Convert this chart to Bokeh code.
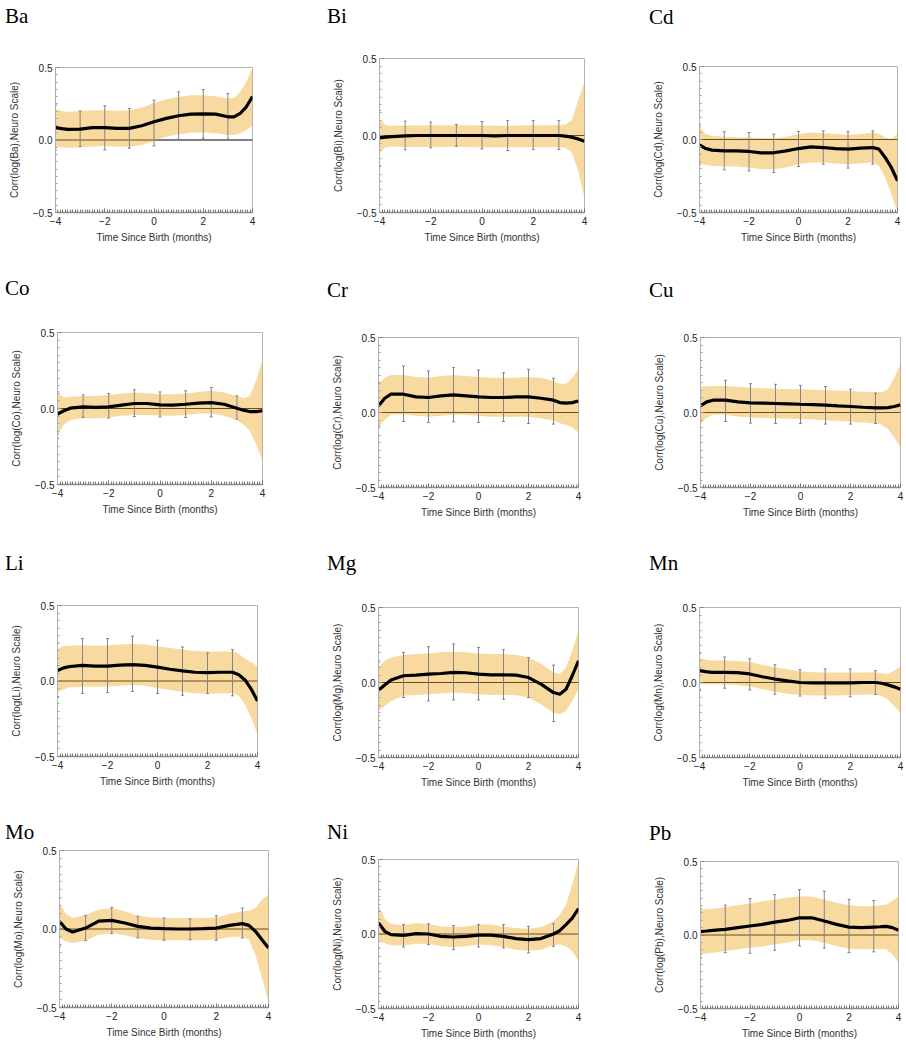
import numpy as np
from bokeh.plotting import figure
from bokeh.models import Span, FixedTicker, Range1d, Div
from bokeh.layouts import column, row
from bokeh.embed import file_html
from bokeh.resources import INLINE

# ---------------- data ----------------
x_grid = [-4, -3.75, -3.5, -3, -2.5, -2, -1.5, -1, -0.5, 0, 0.5, 1, 1.5, 2, 2.5, 3, 3.25, 3.5, 3.75, 4]
eb_x = [-4, -3, -2, -1, 0, 1, 2, 3]

elements = ["Ba", "Bi", "Cd", "Co", "Cr", "Cu", "Li", "Mg", "Mn", "Mo", "Ni", "Pb"]

ba_mean = [0.085, 0.078, 0.073, 0.075, 0.085, 0.085, 0.08, 0.08, 0.098, 0.126, 0.149, 0.167, 0.178, 0.18, 0.178, 0.16, 0.16, 0.183, 0.229, 0.30]
ba_hi = [0.213, 0.2, 0.195, 0.2, 0.206, 0.206, 0.202, 0.206, 0.222, 0.256, 0.281, 0.297, 0.309, 0.309, 0.302, 0.286, 0.29, 0.332, 0.4, 0.5]
ba_lo = [-0.048, -0.05, -0.053, -0.05, -0.046, -0.041, -0.046, -0.046, -0.034, -0.007, 0.023, 0.039, 0.05, 0.053, 0.046, 0.034, 0.034, 0.046, 0.069, 0.098]
ba_eb_hi = [0.24, 0.2, 0.236, 0.217, 0.275, 0.332, 0.348, 0.32]
ba_eb_lo = [-0.069, -0.046, -0.069, -0.057, -0.041, 0.005, 0.011, 0.005]

bi_mean = [-0.015, -0.01, -0.007, -0.002, 0, 0, 0, 0, 0, 0, -0.002, 0, 0, 0, 0, 0, -0.004, -0.011, -0.022, -0.037]
bi_hi = [0.109, 0.065, 0.063, 0.065, 0.065, 0.066, 0.066, 0.067, 0.066, 0.065, 0.063, 0.064, 0.065, 0.066, 0.066, 0.068, 0.072, 0.098, 0.228, 0.348]
bi_lo = [-0.109, -0.076, -0.072, -0.074, -0.075, -0.074, -0.074, -0.073, -0.074, -0.076, -0.078, -0.077, -0.077, -0.076, -0.076, -0.076, -0.08, -0.109, -0.228, -0.402]
bi_eb_hi = [0.163, 0.093, 0.087, 0.072, 0.091, 0.098, 0.098, 0.098]
bi_eb_lo = [-0.196, -0.093, -0.08, -0.07, -0.087, -0.098, -0.091, -0.091]

cd_mean = [-0.037, -0.062, -0.073, -0.078, -0.078, -0.082, -0.091, -0.091, -0.078, -0.062, -0.05, -0.055, -0.062, -0.066, -0.059, -0.055, -0.066, -0.123, -0.192, -0.283]
cd_hi = [0.087, 0.037, 0.025, 0.018, 0.016, 0.014, 0.011, 0.009, 0.018, 0.037, 0.048, 0.043, 0.037, 0.03, 0.037, 0.048, 0.037, 0.014, 0.002, 0.037]
cd_lo = [-0.164, -0.174, -0.18, -0.185, -0.185, -0.192, -0.203, -0.203, -0.192, -0.169, -0.158, -0.158, -0.164, -0.169, -0.162, -0.158, -0.18, -0.26, -0.374, -0.5]
cd_eb_hi = [0.087, 0.053, 0.048, 0.037, 0.055, 0.059, 0.055, 0.059]
cd_eb_lo = [-0.169, -0.208, -0.215, -0.226, -0.185, -0.169, -0.196, -0.169]

co_mean = [-0.037, -0.015, 0.002, 0.011, 0.007, 0.011, 0.022, 0.033, 0.033, 0.024, 0.022, 0.028, 0.035, 0.039, 0.028, 0.002, -0.011, -0.02, -0.02, -0.015]
co_hi = [0.105, 0.072, 0.077, 0.083, 0.083, 0.088, 0.098, 0.105, 0.1, 0.094, 0.094, 0.098, 0.109, 0.116, 0.105, 0.083, 0.068, 0.083, 0.182, 0.324]
co_lo = [-0.179, -0.103, -0.077, -0.063, -0.065, -0.059, -0.048, -0.042, -0.042, -0.048, -0.048, -0.042, -0.033, -0.033, -0.048, -0.077, -0.103, -0.147, -0.234, -0.342]
co_eb_hi = [0.109, 0.09, 0.098, 0.123, 0.109, 0.116, 0.138, 0.083]
co_eb_lo = [-0.168, -0.059, -0.063, -0.053, -0.055, -0.059, -0.055, -0.07]

cr_mean = [0.044, 0.095, 0.122, 0.122, 0.104, 0.1, 0.111, 0.117, 0.111, 0.104, 0.1, 0.1, 0.104, 0.104, 0.095, 0.082, 0.066, 0.062, 0.066, 0.077]
cr_hi = [0.188, 0.232, 0.25, 0.25, 0.237, 0.232, 0.243, 0.25, 0.243, 0.237, 0.232, 0.232, 0.232, 0.237, 0.232, 0.21, 0.192, 0.192, 0.232, 0.288]
cr_lo = [-0.1, -0.049, -0.015, -0.011, -0.022, -0.029, -0.022, -0.015, -0.015, -0.022, -0.029, -0.029, -0.029, -0.029, -0.038, -0.055, -0.071, -0.082, -0.1, -0.133]
cr_eb_hi = [0.192, 0.31, 0.277, 0.299, 0.283, 0.265, 0.288, 0.228]
cr_eb_lo = [-0.088, -0.06, -0.066, -0.062, -0.066, -0.06, -0.073, -0.077]

cu_mean = [0.044, 0.071, 0.082, 0.082, 0.071, 0.064, 0.062, 0.06, 0.058, 0.055, 0.053, 0.049, 0.044, 0.04, 0.035, 0.031, 0.031, 0.033, 0.04, 0.051]
cu_hi = [0.17, 0.175, 0.177, 0.177, 0.17, 0.166, 0.162, 0.159, 0.157, 0.155, 0.151, 0.148, 0.146, 0.144, 0.139, 0.137, 0.137, 0.155, 0.232, 0.321]
cu_lo = [-0.077, -0.033, -0.015, -0.015, -0.027, -0.033, -0.036, -0.04, -0.042, -0.044, -0.047, -0.051, -0.056, -0.062, -0.066, -0.073, -0.082, -0.111, -0.166, -0.232]
cu_eb_hi = [0.2, 0.215, 0.192, 0.188, 0.181, 0.173, 0.155, 0.128]
cu_eb_lo = [-0.1, -0.06, -0.071, -0.073, -0.073, -0.077, -0.077, -0.073]

li_mean = [0.069, 0.087, 0.096, 0.103, 0.098, 0.098, 0.105, 0.109, 0.103, 0.092, 0.078, 0.067, 0.058, 0.056, 0.058, 0.058, 0.042, 0.007, -0.054, -0.132]
li_hi = [0.214, 0.23, 0.234, 0.237, 0.234, 0.237, 0.241, 0.246, 0.241, 0.23, 0.219, 0.208, 0.199, 0.196, 0.196, 0.196, 0.181, 0.147, 0.125, 0.096]
li_lo = [-0.076, -0.054, -0.042, -0.038, -0.038, -0.036, -0.031, -0.027, -0.031, -0.047, -0.06, -0.071, -0.083, -0.083, -0.083, -0.08, -0.098, -0.154, -0.243, -0.355]
li_eb_hi = [0.252, 0.281, 0.281, 0.297, 0.27, 0.225, 0.185, 0.208]
li_eb_lo = [-0.109, -0.083, -0.076, -0.069, -0.083, -0.094, -0.083, -0.098]

mg_mean = [-0.051, -0.016, 0.016, 0.045, 0.049, 0.056, 0.06, 0.067, 0.065, 0.056, 0.051, 0.051, 0.049, 0.033, -0.011, -0.067, -0.078, -0.045, 0.045, 0.145]
mg_hi = [0.1, 0.145, 0.167, 0.183, 0.19, 0.194, 0.201, 0.205, 0.201, 0.194, 0.19, 0.19, 0.185, 0.167, 0.127, 0.067, 0.056, 0.1, 0.212, 0.346]
mg_lo = [-0.19, -0.156, -0.123, -0.089, -0.083, -0.078, -0.074, -0.067, -0.071, -0.078, -0.083, -0.083, -0.085, -0.1, -0.145, -0.201, -0.212, -0.19, -0.123, -0.045]
mg_eb_hi = [0.134, 0.201, 0.239, 0.257, 0.234, 0.219, 0.167, 0.116]
mg_eb_lo = [-0.223, -0.1, -0.123, -0.116, -0.116, -0.112, -0.1, -0.261]

mn_mean = [0.079, 0.072, 0.068, 0.068, 0.066, 0.057, 0.038, 0.023, 0.011, 0.0, -0.002, -0.002, -0.002, -0.002, 0.0, 0.0, -0.005, -0.016, -0.029, -0.045]
mn_hi = [0.163, 0.154, 0.147, 0.147, 0.143, 0.136, 0.118, 0.102, 0.088, 0.075, 0.068, 0.066, 0.066, 0.066, 0.066, 0.068, 0.061, 0.057, 0.079, 0.109]
mn_lo = [-0.011, -0.011, -0.011, -0.011, -0.016, -0.027, -0.045, -0.061, -0.075, -0.084, -0.086, -0.086, -0.086, -0.084, -0.082, -0.079, -0.09, -0.113, -0.158, -0.204]
mn_eb_hi = [0.192, 0.17, 0.158, 0.118, 0.086, 0.09, 0.09, 0.079]
mn_eb_lo = [-0.045, -0.038, -0.05, -0.079, -0.09, -0.106, -0.095, -0.079]

mo_mean = [0.049, 0.0, -0.019, 0.006, 0.05, 0.055, 0.038, 0.017, 0.006, 0.002, 0.0, 0.0, 0.002, 0.006, 0.023, 0.034, 0.023, -0.015, -0.068, -0.121]
mo_hi = [0.166, 0.096, 0.07, 0.091, 0.123, 0.134, 0.113, 0.085, 0.074, 0.07, 0.07, 0.07, 0.07, 0.074, 0.096, 0.113, 0.117, 0.134, 0.187, 0.219]
mo_lo = [-0.057, -0.079, -0.089, -0.074, -0.036, -0.026, -0.04, -0.057, -0.068, -0.072, -0.072, -0.072, -0.072, -0.068, -0.053, -0.047, -0.068, -0.164, -0.313, -0.462]
mo_eb_hi = [0.198, 0.085, 0.138, 0.081, 0.07, 0.064, 0.085, 0.134]
mo_eb_lo = [-0.111, -0.074, -0.03, -0.057, -0.072, -0.068, -0.072, -0.057]

ni_mean = [0.074, 0.018, -0.004, -0.009, 0.002, 0.0, -0.016, -0.02, -0.016, -0.007, -0.007, -0.016, -0.031, -0.038, -0.031, 0.0, 0.022, 0.063, 0.107, 0.17]
ni_hi = [0.196, 0.103, 0.067, 0.058, 0.074, 0.067, 0.051, 0.047, 0.051, 0.063, 0.063, 0.051, 0.04, 0.036, 0.047, 0.085, 0.129, 0.196, 0.33, 0.493]
ni_lo = [-0.049, -0.06, -0.078, -0.078, -0.065, -0.067, -0.083, -0.089, -0.083, -0.071, -0.076, -0.087, -0.105, -0.112, -0.105, -0.076, -0.071, -0.083, -0.116, -0.183]
ni_eb_hi = [0.23, 0.063, 0.069, 0.056, 0.063, 0.063, 0.051, 0.069]
ni_eb_lo = [-0.094, -0.087, -0.071, -0.105, -0.087, -0.094, -0.127, -0.083]

pb_mean = [0.023, 0.027, 0.032, 0.038, 0.05, 0.061, 0.072, 0.088, 0.099, 0.117, 0.117, 0.095, 0.072, 0.054, 0.05, 0.054, 0.056, 0.059, 0.05, 0.032]
pb_hi = [0.174, 0.176, 0.178, 0.19, 0.203, 0.212, 0.23, 0.242, 0.253, 0.264, 0.26, 0.242, 0.219, 0.203, 0.196, 0.196, 0.2, 0.208, 0.23, 0.264]
pb_lo = [-0.131, -0.125, -0.12, -0.108, -0.097, -0.086, -0.079, -0.063, -0.052, -0.036, -0.036, -0.052, -0.074, -0.093, -0.097, -0.097, -0.097, -0.097, -0.131, -0.187]
pb_eb_hi = [0.178, 0.203, 0.248, 0.275, 0.309, 0.298, 0.242, 0.235]
pb_eb_lo = [-0.131, -0.12, -0.124, -0.104, -0.074, -0.09, -0.12, -0.115]

series = {
    "Ba": (ba_mean, ba_hi, ba_lo, ba_eb_hi, ba_eb_lo),
    "Bi": (bi_mean, bi_hi, bi_lo, bi_eb_hi, bi_eb_lo),
    "Cd": (cd_mean, cd_hi, cd_lo, cd_eb_hi, cd_eb_lo),
    "Co": (co_mean, co_hi, co_lo, co_eb_hi, co_eb_lo),
    "Cr": (cr_mean, cr_hi, cr_lo, cr_eb_hi, cr_eb_lo),
    "Cu": (cu_mean, cu_hi, cu_lo, cu_eb_hi, cu_eb_lo),
    "Li": (li_mean, li_hi, li_lo, li_eb_hi, li_eb_lo),
    "Mg": (mg_mean, mg_hi, mg_lo, mg_eb_hi, mg_eb_lo),
    "Mn": (mn_mean, mn_hi, mn_lo, mn_eb_hi, mn_eb_lo),
    "Mo": (mo_mean, mo_hi, mo_lo, mo_eb_hi, mo_eb_lo),
    "Ni": (ni_mean, ni_hi, ni_lo, ni_eb_hi, ni_eb_lo),
    "Pb": (pb_mean, pb_hi, pb_lo, pb_eb_hi, pb_eb_lo),
}

x_ticks = [-4, -2, 0, 2, 4]
x_tick_labels = ["\u22124", "\u22122", "0", "2", "4"]
y_ticks = [-0.5, 0, 0.5]
y_tick_labels = ["\u22120.5", "0.0", "0.5"]

# ---------------- layout (pixels) ----------------
col_w = [303, 298, 303]
row_h = [256, 264, 272, 256]
# frame borders inside each cell: left, right, top, bottom;
# title: x inside cell, baseline below cell top
geom = {
    "Ba": (55, 51, 67, 44, 5, 23),
    "Bi": (76, 17, 58, 44, 24, 23),
    "Cd": (98, 7, 66, 44, 48, 24),
    "Co": (57, 41, 76, 36, 5, 39),
    "Cr": (75, 23, 81, 33, 24, 41),
    "Cu": (99, 4, 81, 33, 48, 41),
    "Li": (57, 46, 85, 36, 5, 50),
    "Mg": (75, 23, 87, 35, 24, 50),
    "Mn": (98, 4, 87, 35, 48, 50),
    "Mo": (59, 35, 58, 41, 5, 47),
    "Ni": (75, 23, 67, 40, 24, 47),
    "Pb": (99, 6, 69, 40, 48, 48),
}

AX_FONT = "Liberation Sans"


def make_cell(name, w, h):
    mean, hi, lo, ebh, ebl = series[name]
    bl, br, bt, bb, tx, tbase = geom[name]
    d = tbase + 6                      # height of the title strip
    title = Div(text=('<div style="padding-left:%dpx;padding-top:%dpx;'
                      "font-family:'Liberation Serif';font-size:21px;line-height:16px;"
                      'color:#000;white-space:nowrap">%s</div>') % (tx, tbase - 15, name),
                width=w, height=d, margin=0)

    p = figure(width=w, height=h - d, output_backend="svg", toolbar_location=None,
               x_range=Range1d(-4, 4), y_range=Range1d(-0.5, 0.5),
               min_border_left=bl, min_border_right=br,
               min_border_top=bt - d, min_border_bottom=bb)
    p.xgrid.visible = False
    p.ygrid.visible = False
    p.outline_line_color = "#b4b4b4"
    p.outline_line_width = 1

    # zero line (drawn under the translucent band)
    p.add_layout(Span(location=0, dimension="width", line_color="#000000",
                      line_width=1, level="underlay"))
    p.varea(x=x_grid, y1=lo, y2=hi, fill_color="#EFAD2C", fill_alpha=0.45)
    p.segment(x0=eb_x, y0=ebl, x1=eb_x, y1=ebh, line_color="#848484", line_width=1)
    p.scatter(x=eb_x + eb_x, y=list(ebh) + list(ebl), marker="dash", size=3,
              line_color="#848484", line_width=1)
    p.line(x=x_grid, y=mean, line_color="#000000", line_width=3.2)

    xa = p.xaxis[0]
    xa.ticker = FixedTicker(ticks=x_ticks, minor_ticks=list(np.round(np.arange(-4, 4.0001, 0.1), 2)))
    xa.major_label_overrides = dict(zip(x_ticks, x_tick_labels))
    xa.axis_label = "Time Since Birth (months)"
    ya = p.yaxis[0]
    ya.ticker = FixedTicker(ticks=y_ticks, minor_ticks=list(np.round(np.arange(-0.5, 0.5001, 0.05), 3)))
    ya.major_label_overrides = dict(zip(y_ticks, y_tick_labels))
    ya.axis_label = "Corr(log(%s),Neuro Scale)" % name

    for ax in (xa, ya):
        ax.major_tick_in = 4
        ax.major_tick_out = 0
        ax.minor_tick_out = 0
        ax.major_tick_line_color = "#777777"
        ax.major_label_text_font = AX_FONT
        ax.major_label_text_font_size = "10px"
        ax.major_label_text_color = "#222222"
        ax.axis_label_text_font = AX_FONT
        ax.axis_label_text_font_size = "10px"
        ax.axis_label_text_font_style = "normal"
        ax.axis_label_text_color = "#333333"
    xa.axis_line_color = "#8c8c8c"
    xa.axis_line_width = 1.5
    xa.minor_tick_line_color = "#7a7a7a"
    xa.minor_tick_in = 3
    ya.axis_line_color = "#b0b0b0"
    ya.minor_tick_line_color = "#a0a0a0"
    ya.minor_tick_in = 2
    xa.major_label_standoff = 4
    xa.axis_label_standoff = 4
    ya.major_label_standoff = 3
    ya.axis_label_standoff = 10

    return column(title, p, spacing=0)


rows = []
for r in range(4):
    cells = []
    for c in range(3):
        name = elements[r * 3 + c]
        cells.append(make_cell(name, col_w[c], row_h[r]))
    rows.append(row(*cells, spacing=0))

page = column(*rows, spacing=0)
open("out.html", "w").write(file_html(page, INLINE))
